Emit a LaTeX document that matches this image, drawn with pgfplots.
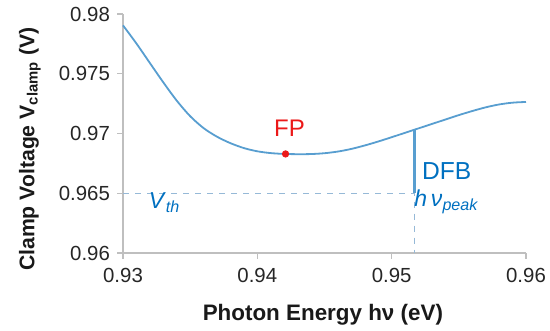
\documentclass[border=0pt]{standalone}
\usepackage{fontspec}
\setmainfont{Liberation Sans}
\usepackage{pgfplots}
\pgfplotsset{compat=1.18}
\definecolor{curve}{RGB}{88,158,208}
\definecolor{dfbtxt}{RGB}{0,112,192}
\definecolor{dashcol}{RGB}{150,185,215}
\definecolor{axgray}{RGB}{191,191,191}
\definecolor{fpred}{RGB}{235,25,25}
\begin{document}
\begin{tikzpicture}
\begin{axis}[
  scale only axis,
  width=201.5pt, height=119.5pt,
  xmin=0.93, xmax=0.96, ymin=0.96, ymax=0.98,
  axis lines*=left,
  axis line style={axgray, line width=0.6pt},
  tick style={axgray, line width=0.6pt},
  tick align=outside,
  major tick length=3pt,
  xtick={0.93,0.94,0.95,0.96},
  xticklabels={0.93,0.94,0.95,0.96},
  ytick={0.96,0.965,0.97,0.975,0.98},
  yticklabels={0.96,0.965,0.97,0.975,0.98},
  ticklabel style={font=\fontsize{10.2}{12}\selectfont, text=black!85},
  xticklabel style={yshift=-1pt},
  yticklabel style={xshift=0pt},
  /pgf/number format/assume math mode=true,
  xlabel={\textbf{Photon Energy hν (eV)}},
  ylabel={\textbf{Clamp Voltage V\textsubscript{clamp} (V)}},
  xlabel style={font=\fontsize{11.2}{13}\selectfont, text=black!90, at={(axis description cs:0.496,-0.259)}, anchor=center},
  ylabel style={font=\fontsize{10.6}{12}\selectfont, text=black!90, at={(axis description cs:-0.231,0.435)}, anchor=center},
  clip=false,
]
\addplot[curve, line width=0.9pt, smooth] coordinates {
(0.930,0.97905)
(0.931,0.97753)
(0.932,0.97590)
(0.933,0.97428)
(0.934,0.97275)
(0.935,0.97145)
(0.936,0.97045)
(0.937,0.96973)
(0.938,0.96919)
(0.939,0.96878)
(0.940,0.96851)
(0.941,0.96836)
(0.942,0.96829)
(0.943,0.96827)
(0.944,0.96828)
(0.945,0.96835)
(0.946,0.96849)
(0.947,0.96871)
(0.948,0.96900)
(0.949,0.96933)
(0.950,0.96969)
(0.951,0.97006)
(0.952,0.97043)
(0.953,0.97080)
(0.954,0.97117)
(0.955,0.97154)
(0.956,0.97188)
(0.957,0.97219)
(0.958,0.97243)
(0.959,0.97258)
(0.960,0.97264)
};
\addplot[dashcol, dashed, line width=0.6pt] coordinates {(0.93,0.965) (0.9517,0.965) (0.9517,0.96)};
\addplot[curve, line width=1.1pt] coordinates {(0.9517,0.965) (0.9517,0.97032)};
\addplot[only marks, mark=*, mark size=1.6pt, fpred] coordinates {(0.9421,0.96829)};
\node[text=fpred, font=\fontsize{12}{14}\selectfont] at (axis cs:0.9424,0.9704) {FP};
\node[text=dfbtxt, font=\fontsize{12.3}{14}\selectfont] at (axis cs:0.9541,0.9669) {DFB};
\node[text=dfbtxt, font=\fontsize{11.5}{13}\selectfont] at (axis cs:0.9541,0.9643) {\textit{h\,ν}\textsubscript{\textit{peak}}};
\node[text=dfbtxt, font=\fontsize{11.5}{13}\selectfont] at (axis cs:0.9331,0.9642) {\textit{V}\textsubscript{\textit{th}}};
\coordinate (bl) at (rel axis cs:0,0);
\end{axis}
\pgfresetboundingbox
\path[use as bounding box] ([shift={(-61.5pt,-39pt)}]bl) rectangle ++(275pt,165.5pt);
\end{tikzpicture}
\end{document}
